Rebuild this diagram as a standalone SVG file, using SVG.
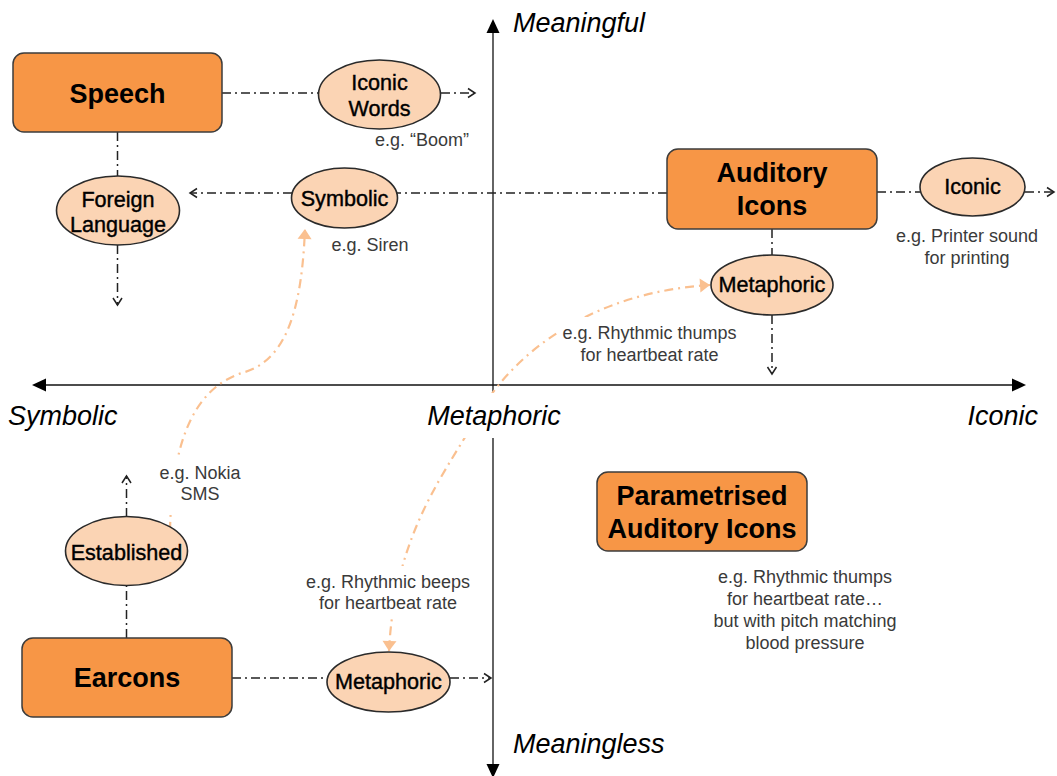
<svg xmlns="http://www.w3.org/2000/svg" width="1057" height="776" viewBox="0 0 1057 776">
<style>
.box{fill:#F79646;stroke:#3c3c3c;stroke-width:1.5}
.ell{fill:#FBD4B4;stroke:#2a2a2a;stroke-width:1.6}
.bt{font-family:"Liberation Sans",Arial,sans-serif;font-weight:bold;font-size:27px;fill:#000;text-anchor:middle}
.et{font-family:"Liberation Sans",Arial,sans-serif;font-size:21.6px;fill:#000;stroke:#000;stroke-width:0.4;text-anchor:middle}
.lt{font-family:"Liberation Sans",Arial,sans-serif;font-size:18px;fill:#3a3a3a;text-anchor:middle}
.ax{font-family:"Liberation Sans",Arial,sans-serif;font-style:italic;font-size:27px;fill:#000}
.con{fill:none;stroke:#222;stroke-width:1.5;stroke-dasharray:9,4,2,4}
.cur{fill:none;stroke:#FAC090;stroke-width:2.2;stroke-dasharray:9,5,2,5}
.axis{stroke:#111;stroke-width:1.3;fill:none}
.bg{fill:#fff}
</style>
<defs>
<marker id="open" markerUnits="userSpaceOnUse" markerWidth="12" markerHeight="12" viewBox="-10 -6 12 12" refX="0" refY="0" orient="auto">
<path d="M-7,-4.5 L0,0 L-7,4.5" fill="none" stroke="#222" stroke-width="1.5"/>
</marker>
<marker id="orng" markerUnits="userSpaceOnUse" markerWidth="14" markerHeight="16" viewBox="-12 -8 14 16" refX="0" refY="0" orient="auto">
<path d="M-10,-7 L0,0 L-10,7 Z" fill="#FAC090"/>
</marker>
</defs>

<g id="axes">
<line class="axis" x1="44" y1="385" x2="1013" y2="385"/>
<path d="M32,385 L46,378.5 L46,391.5 Z" fill="#000"/>
<path d="M1026,385 L1012,378.5 L1012,391.5 Z" fill="#000"/>
<line class="axis" x1="493" y1="31" x2="493" y2="765"/>
<path d="M493,19 L486.5,33 L499.5,33 Z" fill="#000"/>
<path d="M493,778 L486.5,764 L499.5,764 Z" fill="#000"/>
</g>

<g id="connectors">
<line class="con" x1="222" y1="93" x2="318" y2="93"/>
<line class="con" x1="441" y1="93" x2="475" y2="93" marker-end="url(#open)"/>
<line class="con" x1="117.5" y1="132" x2="117.5" y2="176"/>
<line class="con" x1="117.5" y1="245" x2="117.5" y2="305" marker-end="url(#open)"/>
<line class="con" x1="667" y1="193" x2="397" y2="193"/>
<line class="con" x1="292" y1="193" x2="190" y2="193" marker-end="url(#open)"/>
<line class="con" x1="877" y1="192" x2="920" y2="192"/>
<line class="con" x1="1025" y1="192" x2="1054" y2="192" marker-end="url(#open)"/>
<line class="con" x1="772" y1="229" x2="772" y2="255"/>
<line class="con" x1="772" y1="315" x2="772" y2="374" marker-end="url(#open)"/>
<line class="con" x1="126.5" y1="638" x2="126.5" y2="586"/>
<line class="con" x1="126.5" y1="517" x2="126.5" y2="476" marker-end="url(#open)"/>
<line class="con" x1="232" y1="678" x2="327" y2="678"/>
<line class="con" x1="450" y1="678" x2="491" y2="678" marker-end="url(#open)"/>
<path class="cur" d="M170,531 C172,430 200,385 245,372 C290,358 302,300 305,229" marker-end="url(#orng)"/>
<path class="cur" d="M478,415 C515,350 595,292 710,285" marker-end="url(#orng)"/>
<path class="cur" d="M478,415 C448,470 395,530 389,651" marker-end="url(#orng)"/>
</g>

<g id="axis-labels">
<rect class="bg" x="424" y="393" width="140" height="45"/>
<text class="ax" x="513" y="32">Meaningful</text>
<text class="ax" x="513" y="753">Meaningless</text>
<text class="ax" x="8" y="425">Symbolic</text>
<text class="ax" x="494" y="425" text-anchor="middle">Metaphoric</text>
<text class="ax" x="1038" y="425" text-anchor="end">Iconic</text>
</g>

<g id="speech">
<rect class="box" x="13" y="53" width="209" height="79" rx="11"/>
<text class="bt" x="117.5" y="103">Speech</text>
</g>
<g id="iconic-words">
<ellipse class="ell" cx="379.5" cy="94.5" rx="61" ry="34.5"/>
<text class="et" x="379.5" y="90">Iconic</text>
<text class="et" x="379.5" y="116">Words</text>
<text class="lt" x="422" y="146">e.g. “Boom”</text>
</g>
<g id="foreign-language">
<ellipse class="ell" cx="118" cy="210.5" rx="61.5" ry="34.5"/>
<text class="et" x="118" y="207">Foreign</text>
<text class="et" x="118" y="232">Language</text>
</g>
<g id="symbolic">
<ellipse class="ell" cx="344.5" cy="198" rx="53" ry="30"/>
<text class="et" x="344.5" y="206">Symbolic</text>
<text class="lt" x="370" y="251">e.g. Siren</text>
</g>
<g id="auditory-icons">
<rect class="box" x="667" y="149" width="210" height="80" rx="11"/>
<text class="bt" x="772" y="182">Auditory</text>
<text class="bt" x="772" y="215">Icons</text>
</g>
<g id="iconic">
<ellipse class="ell" cx="972.5" cy="187" rx="52.5" ry="29"/>
<text class="et" x="972.5" y="194">Iconic</text>
<text class="lt" x="967" y="242">e.g. Printer sound</text>
<text class="lt" x="967" y="264">for printing</text>
</g>
<g id="metaphoric-top">
<ellipse class="ell" cx="772" cy="285" rx="61" ry="30"/>
<text class="et" x="772" y="292">Metaphoric</text>
<rect class="bg" x="557" y="317" width="182" height="50"/>
<text class="lt" x="649.5" y="339">e.g. Rhythmic thumps</text>
<text class="lt" x="649.5" y="361">for heartbeat rate</text>
</g>
<g id="established">
<ellipse class="ell" cx="126.5" cy="551" rx="61" ry="34.5"/>
<text class="et" x="126.5" y="560">Established</text>
<rect class="bg" x="156" y="455" width="88" height="56"/>
<text class="lt" x="200" y="479">e.g. Nokia</text>
<text class="lt" x="200" y="500">SMS</text>
</g>
<g id="earcons">
<rect class="box" x="22" y="638" width="210" height="79" rx="11"/>
<text class="bt" x="127" y="687">Earcons</text>
</g>
<g id="metaphoric-bottom">
<rect class="bg" x="300" y="566" width="176" height="52"/>
<text class="lt" x="388" y="588">e.g. Rhythmic beeps</text>
<text class="lt" x="388" y="609">for heartbeat rate</text>
<ellipse class="ell" cx="388.5" cy="682" rx="61.5" ry="30"/>
<text class="et" x="388.5" y="689">Metaphoric</text>
</g>
<g id="parametrised-auditory-icons">
<rect class="box" x="597" y="472" width="210" height="79" rx="11"/>
<text class="bt" x="702" y="505">Parametrised</text>
<text class="bt" x="702" y="538">Auditory Icons</text>
<text class="lt" x="805" y="583">e.g. Rhythmic thumps</text>
<text class="lt" x="805" y="605">for heartbeat rate…</text>
<text class="lt" x="805" y="627">but with pitch matching</text>
<text class="lt" x="805" y="649">blood pressure</text>
</g>
</svg>
